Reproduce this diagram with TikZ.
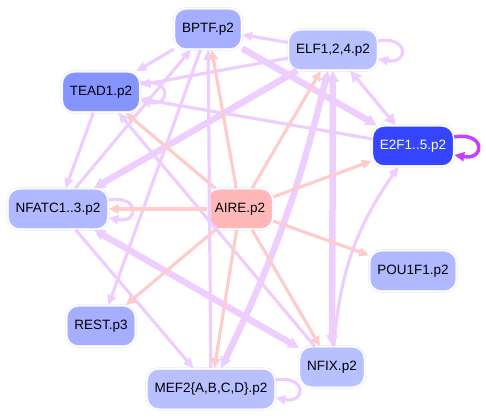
\documentclass[tikz,border=0pt]{standalone}
\usepackage{fontspec}
\setmainfont{Liberation Sans}
\usetikzlibrary{positioning, arrows.meta}

\definecolor{airefill}{RGB}{255,184,184}
\definecolor{tfbase}{RGB}{176,184,255}
\definecolor{tfmid}{RGB}{166,174,255}
\definecolor{tflight}{RGB}{184,192,255}
\definecolor{tfdeep}{RGB}{134,148,255}
\definecolor{tfdark}{RGB}{52,68,255}
\definecolor{rim}{RGB}{228,230,255}
\definecolor{edgepurple}{RGB}{238,206,255}
\definecolor{edgepink}{RGB}{255,204,204}
\definecolor{loopviolet}{RGB}{200,64,255}

\begin{document}
\begin{tikzpicture}[x=1pt, y=1pt, on grid,
    gene/.style={rectangle, rounded corners=12pt, minimum height=41pt, inner xsep=8pt,
                 draw=rim, line width=0.5pt, double=white, double distance=1.5pt,
                 font=\fontsize{13.5}{16}\selectfont},
    link/.style={-{Triangle[length=10pt, width=9pt]}, color=edgepurple, line width=3.2pt},
    both/.style={{Triangle[length=11pt, width=11pt]}-{Triangle[length=11pt, width=11pt]}},
    heavy/.style={-{Triangle[length=11pt, width=11pt]}, color=edgepurple, line width=6.5pt},
    aire/.style={-{Triangle[length=10pt, width=9pt]}, color=edgepink, line width=3.2pt},
    selfloop/.style={out=10, in=-10, looseness=4.5}]
    \useasboundingbox (-240,-210) rectangle (246,209);

    \node[gene, fill=airefill] (aire) at (0,0) {AIRE.p2};
    \node[gene, fill=tfmid] (bptf) [above left=180pt and 32pt of aire] {BPTF.p2};
    \node[gene, fill=tflight] (elf) [above right=159pt and 93pt of aire] {ELF1,2,4.p2};
    \node[gene, fill=tfdeep] (tead1) [above left=117pt and 139pt of aire] {TEAD1.p2};
    \node[gene, fill=tfdark, text=white] (e2f1) [above right=63pt and 173pt of aire] {E2F1..5.p2};
    \node[gene, fill=tfbase] (nfatc) [left=182pt of aire] {NFATC1..3.p2};
    \node[gene, fill=tfbase] (pou1f1) [below right=62pt and 173pt of aire] {POU1F1.p2};
    \node[gene, fill=tfmid] (rest) [below left=117pt and 139pt of aire] {REST.p3};
    \node[gene, fill=tflight] (nfix) [below right=158pt and 92pt of aire] {NFIX.p2};
    \node[gene, fill=tflight] (mef2) [below left=180pt and 29pt of aire] {MEF2\{A,B,C,D\}.p2};

    \path[link]
    (bptf) edge (tead1)
           edge (rest)
    (elf) edge (bptf)
          edge (tead1)
          edge[both] (e2f1)
    (e2f1) edge (tead1)
    (tead1) edge (nfatc)
    (nfatc) edge (bptf)
            edge (mef2)
    (mef2) edge (bptf)
    (nfix) edge (tead1)
           edge[bend left=15] (e2f1)
    ([yshift=9pt]tead1.east) edge[selfloop] ([yshift=-9pt]tead1.east)
    ([yshift=9pt]elf.east) edge[selfloop] ([yshift=-9pt]elf.east)
    ([yshift=9pt]nfatc.east) edge[selfloop] ([yshift=-9pt]nfatc.east)
    ([yshift=9pt]mef2.east) edge[selfloop] ([yshift=-9pt]mef2.east)
    ([yshift=9pt]e2f1.east) edge[selfloop, color=loopviolet, line width=3.5pt] ([yshift=-9pt]e2f1.east);

    \path[heavy]
    (bptf) edge (e2f1)
    (elf) edge (nfatc)
          edge[both, bend left=6] (mef2)
          edge[both] (nfix)
    (nfatc) edge[both] (nfix);

    \path[aire]
    (aire) edge (tead1)
           edge (bptf)
           edge (elf)
           edge (e2f1)
           edge (nfatc)
           edge (rest)
           edge (mef2)
           edge (nfix)
           edge (pou1f1);
\end{tikzpicture}
\end{document}
